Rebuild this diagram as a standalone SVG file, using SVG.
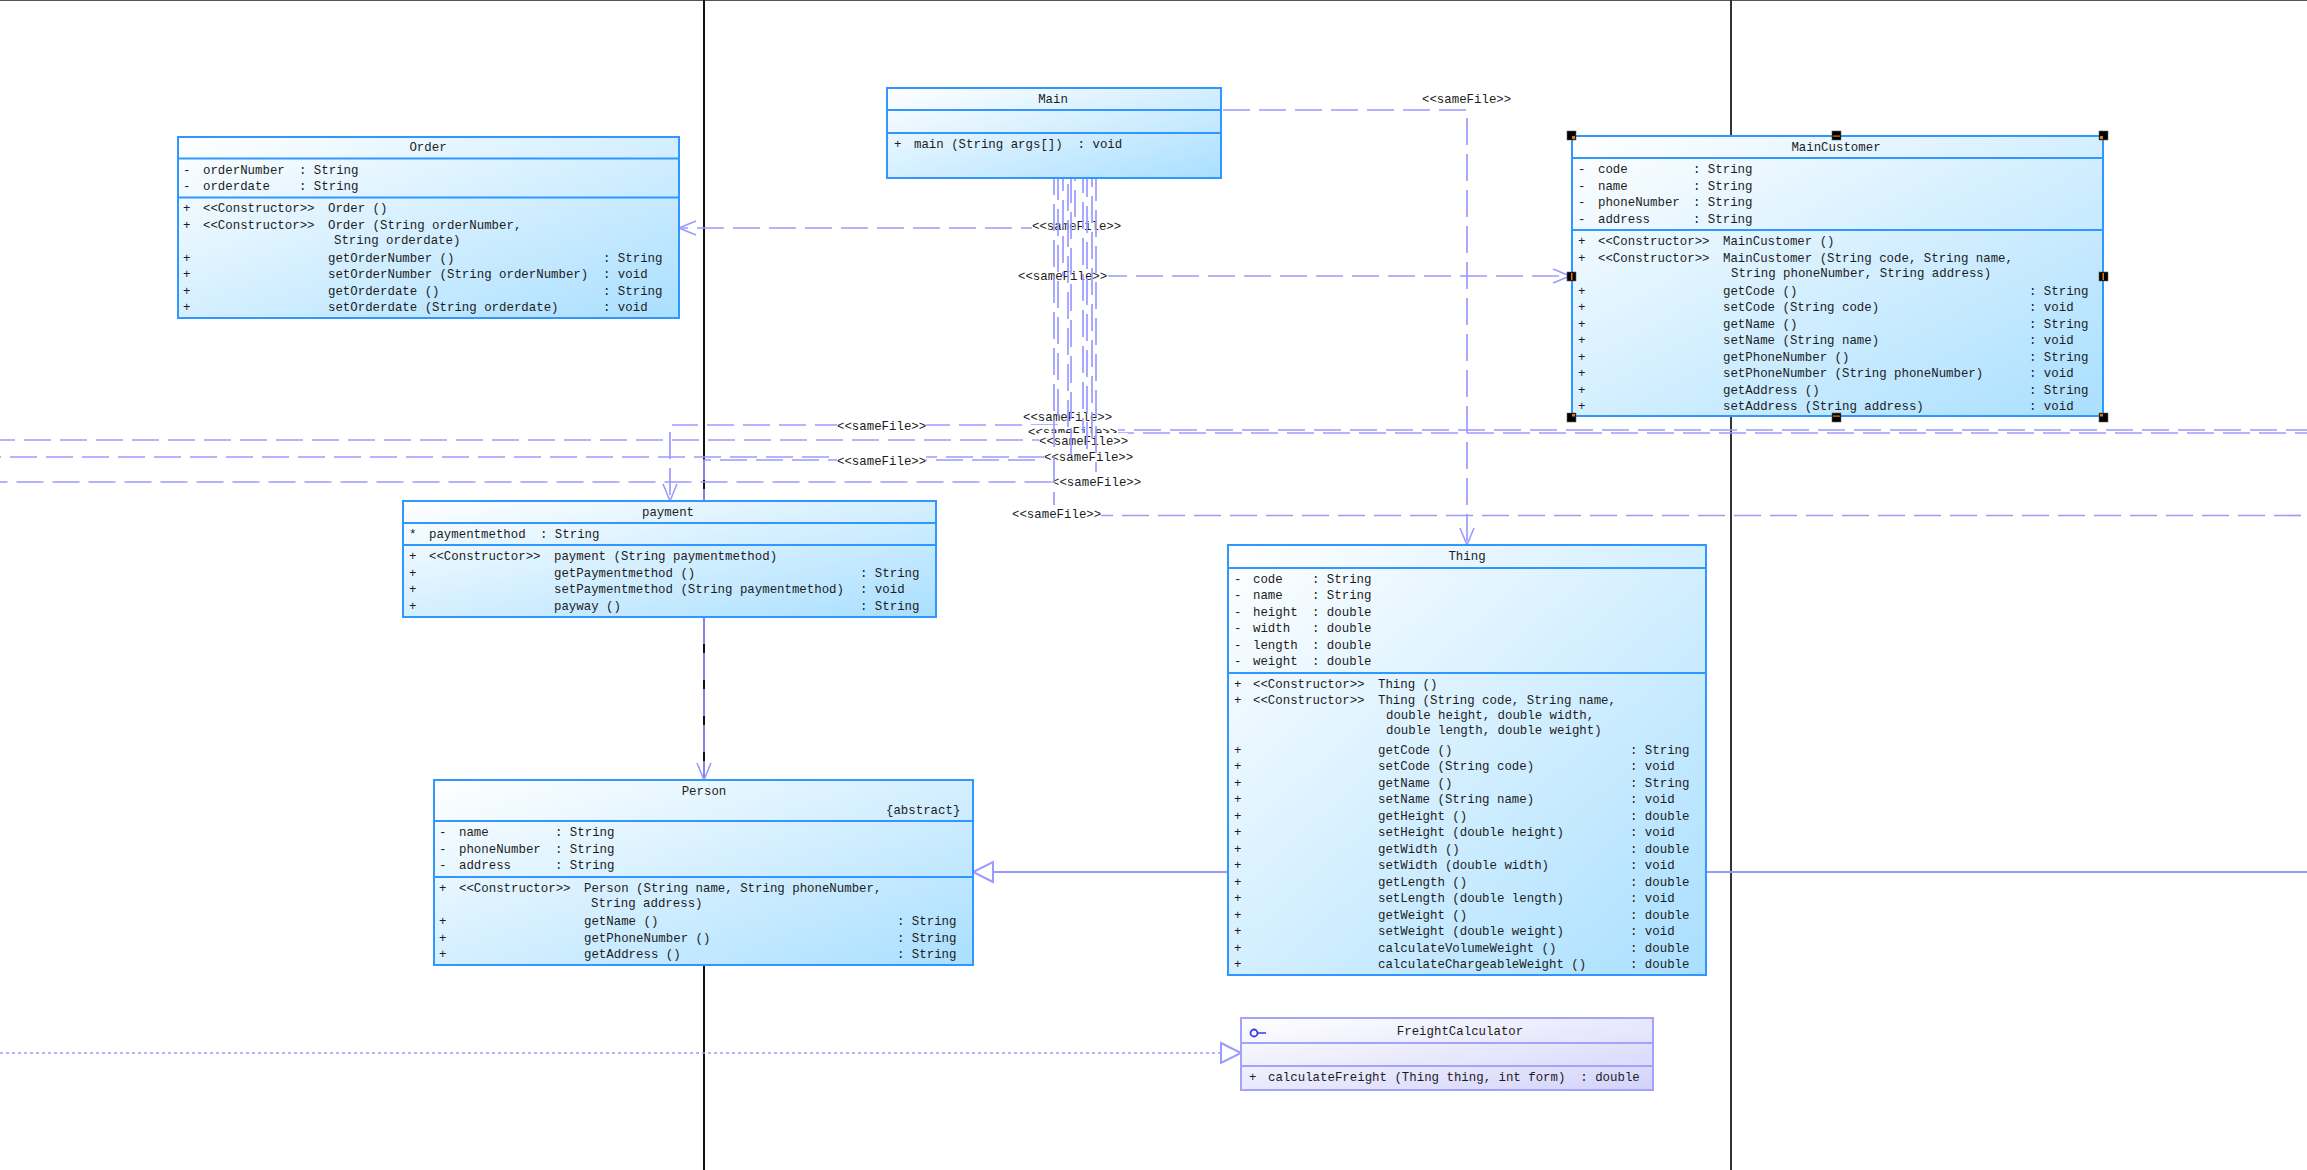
<svg xmlns="http://www.w3.org/2000/svg" width="2307" height="1170" viewBox="0 0 2307 1170">
<style>
text{font-family:"Liberation Mono","DejaVu Sans Mono",monospace;font-size:12.4px;fill:#1c1c1c;white-space:pre}
.c{text-anchor:middle}
.box{fill:url(#g);stroke:#2f97ff;stroke-width:2}
.sep{stroke:#2f97ff;stroke-width:2;fill:none}
.ibox{fill:url(#gi);stroke:#a3a3f8;stroke-width:2}
.isep{stroke:#a3a3f8;stroke-width:2;fill:none}
.d{fill:none;stroke:#9b9bff;stroke-width:1.7;stroke-dasharray:27 9}
.s{fill:none;stroke:#9b9bff;stroke-width:2}
.o{fill:none;stroke:#9b9bff;stroke-width:1.7;stroke-dasharray:3 3}
.bg{fill:#fff}
.h{fill:#000;stroke:#666;stroke-width:.6}
.or{fill:#e47b00}
.b{stroke:#111;stroke-width:2;fill:none}
</style>
<defs>
<linearGradient id="g" x1="0" y1="0" x2="1" y2="1"><stop offset="0" stop-color="#fff"/><stop offset="1" stop-color="#a9dfff"/></linearGradient>
<linearGradient id="gi" x1="0" y1="0" x2="1" y2="1"><stop offset="0" stop-color="#fff"/><stop offset="1" stop-color="#d3d3fb"/></linearGradient>
<marker id="open" markerUnits="userSpaceOnUse" markerWidth="24" markerHeight="20" refX="20" refY="10" orient="auto" overflow="visible"><path d="M3,3L20,10L3,17" fill="none" stroke="#9b9bff" stroke-width="1.6"/></marker>
<marker id="tri" markerUnits="userSpaceOnUse" markerWidth="26" markerHeight="26" refX="22" refY="13" orient="auto" overflow="visible"><path d="M2,3L22,13L2,23Z" fill="#fff" stroke="#9b9bff" stroke-width="2"/></marker>
</defs>
<rect width="2307" height="1170" fill="#fff"/>
<g id="background-lines">
<rect x="0" y="0" width="2307" height="1" fill="#555"/>
<line class="b" x1="704" y1="0" x2="704" y2="1170"/>
<line x1="1731" y1="0" x2="1731" y2="1170" stroke="#333" stroke-width="2"/>
</g>
<g id="connectors">
<path class="d" d="M1223,110H1467V545" marker-end="url(#open)"/>
<path class="d" d="M1048,228H679" marker-end="url(#open)"/>
<path class="d" d="M1100,276H1570" marker-end="url(#open)"/>
<path class="d" d="M1058,425H672"/>
<path class="d" d="M670,432V501" marker-end="url(#open)"/>
<path class="d" d="M0,440H1092" stroke-dashoffset="12"/>
<path class="d" d="M0,457H1087" stroke-dashoffset="26"/>
<path class="d" d="M1071,460H704V501"/>
<path class="d" d="M0,482H1096" stroke-dashoffset="19.5"/>
<path class="d" d="M1068,430H2307" stroke-dashoffset="6"/>
<path class="d" d="M1083,433H2307" stroke-dashoffset="12"/>
<path class="d" d="M1054,515.500H2307" stroke-dashoffset="4"/>
<path class="d" d="M704,617V780" marker-end="url(#open)"/>
<path class="s" d="M1228,872H973" marker-end="url(#tri)"/>
<path class="s" d="M1706,872H2307"/>
<path class="o" d="M0,1053H1241" marker-end="url(#tri)"/>
<g id="connector-labels">
<rect class="bg" x="1421" y="92" width="90" height="15"/><text x="1422" y="103">&lt;&lt;sameFile&gt;&gt;</text>
<rect class="bg" x="1032" y="219" width="89" height="15"/><text x="1032" y="230">&lt;&lt;sameFile&gt;&gt;</text>
<rect class="bg" x="1018" y="269" width="90" height="15"/><text x="1018" y="280">&lt;&lt;sameFile&gt;&gt;</text>
<rect class="bg" x="837" y="419" width="89" height="15"/><text x="837" y="430">&lt;&lt;sameFile&gt;&gt;</text>
<rect class="bg" x="837" y="454" width="89" height="15"/><text x="837" y="465">&lt;&lt;sameFile&gt;&gt;</text>
<rect class="bg" x="1023" y="410" width="89" height="14"/><text x="1023" y="421">&lt;&lt;sameFile&gt;&gt;</text>
<rect class="bg" x="1028" y="425" width="90" height="10"/><text x="1028" y="436">&lt;&lt;sameFile&gt;&gt;</text>
<rect class="bg" x="1039" y="433" width="89" height="15"/><text x="1039" y="445">&lt;&lt;sameFile&gt;&gt;</text>
<rect class="bg" x="1044" y="450" width="89" height="15"/><text x="1044" y="461">&lt;&lt;sameFile&gt;&gt;</text>
<rect class="bg" x="1052" y="475" width="89" height="15"/><text x="1052" y="486">&lt;&lt;sameFile&gt;&gt;</text>
<rect class="bg" x="1012" y="507" width="89" height="15"/><text x="1012" y="518">&lt;&lt;sameFile&gt;&gt;</text>
</g>
<g id="main-bundle">
<path class="d" d="M1054,178V505" stroke-dashoffset="10"/>
<path class="d" d="M1058,178V425" stroke-dashoffset="5"/>
<path class="d" d="M1063,178V276" stroke-dashoffset="14"/>
<path class="d" d="M1068,178V430" stroke-dashoffset="30"/>
<path class="d" d="M1071,178V460" stroke-dashoffset="2"/>
<path class="d" d="M1075,178V228" stroke-dashoffset="24"/>
<path class="d" d="M1083,178V433" stroke-dashoffset="12"/>
<path class="d" d="M1087,178V457" stroke-dashoffset="8"/>
<path class="d" d="M1092,178V440" stroke-dashoffset="18"/>
<path class="d" d="M1096,178V472" stroke-dashoffset="4"/>
</g>
</g>
<g id="Order">
<rect class="box" x="178" y="137" width="501" height="181"/>
<path class="sep" d="M178,158.500H679M178,197.500H679"/>
<text class="c" x="428" y="151">Order</text>
<text y="173.500"><tspan x="183">-</tspan><tspan x="203">orderNumber</tspan><tspan x="299">: String</tspan></text>
<text y="189.500"><tspan x="183">-</tspan><tspan x="203">orderdate</tspan><tspan x="299">: String</tspan></text>
<text y="212"><tspan x="183">+</tspan><tspan x="203">&lt;&lt;Constructor&gt;&gt;</tspan><tspan x="328">Order ()</tspan></text>
<text y="229"><tspan x="183">+</tspan><tspan x="203">&lt;&lt;Constructor&gt;&gt;</tspan><tspan x="328">Order (String orderNumber,</tspan></text>
<text x="334" y="244">String orderdate)</text>
<text y="262"><tspan x="183">+</tspan><tspan x="328">getOrderNumber ()</tspan><tspan x="603">: String</tspan></text>
<text y="278"><tspan x="183">+</tspan><tspan x="328">setOrderNumber (String orderNumber)</tspan><tspan x="603">: void</tspan></text>
<text y="295"><tspan x="183">+</tspan><tspan x="328">getOrderdate ()</tspan><tspan x="603">: String</tspan></text>
<text y="311"><tspan x="183">+</tspan><tspan x="328">setOrderdate (String orderdate)</tspan><tspan x="603">: void</tspan></text>
</g>
<g id="Main">
<rect class="box" x="887" y="88" width="334" height="90"/>
<path class="sep" d="M887,110H1221M887,133H1221"/>
<text class="c" x="1053" y="103">Main</text>
<text y="148"><tspan x="894">+</tspan><tspan x="914">main (String args[])  : void</tspan></text>
</g>
<g id="MainCustomer">
<rect class="box" x="1572" y="136" width="531" height="280"/>
<path class="sep" d="M1572,158H2103M1572,230H2103"/>
<text class="c" x="1836" y="151">MainCustomer</text>
<text y="173"><tspan x="1578">-</tspan><tspan x="1598">code</tspan><tspan x="1693">: String</tspan></text>
<text y="190"><tspan x="1578">-</tspan><tspan x="1598">name</tspan><tspan x="1693">: String</tspan></text>
<text y="206"><tspan x="1578">-</tspan><tspan x="1598">phoneNumber</tspan><tspan x="1693">: String</tspan></text>
<text y="223"><tspan x="1578">-</tspan><tspan x="1598">address</tspan><tspan x="1693">: String</tspan></text>
<text y="245"><tspan x="1578">+</tspan><tspan x="1598">&lt;&lt;Constructor&gt;&gt;</tspan><tspan x="1723">MainCustomer ()</tspan></text>
<text y="262"><tspan x="1578">+</tspan><tspan x="1598">&lt;&lt;Constructor&gt;&gt;</tspan><tspan x="1723">MainCustomer (String code, String name,</tspan></text>
<text x="1731" y="277">String phoneNumber, String address)</text>
<text y="295"><tspan x="1578">+</tspan><tspan x="1723">getCode ()</tspan><tspan x="2029">: String</tspan></text>
<text y="311"><tspan x="1578">+</tspan><tspan x="1723">setCode (String code)</tspan><tspan x="2029">: void</tspan></text>
<text y="328"><tspan x="1578">+</tspan><tspan x="1723">getName ()</tspan><tspan x="2029">: String</tspan></text>
<text y="344"><tspan x="1578">+</tspan><tspan x="1723">setName (String name)</tspan><tspan x="2029">: void</tspan></text>
<text y="361"><tspan x="1578">+</tspan><tspan x="1723">getPhoneNumber ()</tspan><tspan x="2029">: String</tspan></text>
<text y="377"><tspan x="1578">+</tspan><tspan x="1723">setPhoneNumber (String phoneNumber)</tspan><tspan x="2029">: void</tspan></text>
<text y="394"><tspan x="1578">+</tspan><tspan x="1723">getAddress ()</tspan><tspan x="2029">: String</tspan></text>
<text y="410"><tspan x="1578">+</tspan><tspan x="1723">setAddress (String address)</tspan><tspan x="2029">: void</tspan></text>
<g id="selection-handles">
<rect class="h" x="1567" y="131" width="9" height="9"/><rect class="h" x="1832" y="131" width="9" height="9"/><rect class="h" x="2099" y="131" width="9" height="9"/>
<rect class="h" x="1567" y="272" width="9" height="9"/><rect class="h" x="2099" y="272" width="9" height="9"/>
<rect class="h" x="1567" y="413" width="9" height="9"/><rect class="h" x="1832" y="413" width="9" height="9"/><rect class="h" x="2099" y="413" width="9" height="9"/>
<rect class="or" x="1572" y="136" width="3" height="3"/><rect class="or" x="1833" y="135.500" width="7" height="1.200"/><rect class="or" x="2100" y="136" width="3" height="3"/>
<rect class="or" x="1571" y="273" width="1.500" height="7"/><rect class="or" x="2102.500" y="273" width="1.500" height="7"/>
<rect class="or" x="1572" y="414" width="3" height="2.500"/><rect class="or" x="1833" y="415.500" width="7" height="1.200"/><rect class="or" x="2100" y="414" width="3" height="2.500"/>
</g>
</g>
<g id="payment">
<rect class="box" x="403" y="501" width="533" height="116"/>
<path class="sep" d="M403,523H936M403,545H936"/>
<text class="c" x="668" y="516">payment</text>
<text y="538"><tspan x="409">*</tspan><tspan x="429">paymentmethod</tspan><tspan x="540">: String</tspan></text>
<text y="560"><tspan x="409">+</tspan><tspan x="429">&lt;&lt;Constructor&gt;&gt;</tspan><tspan x="554">payment (String paymentmethod)</tspan></text>
<text y="577"><tspan x="409">+</tspan><tspan x="554">getPaymentmethod ()</tspan><tspan x="860">: String</tspan></text>
<text y="593"><tspan x="409">+</tspan><tspan x="554">setPaymentmethod (String paymentmethod)</tspan><tspan x="860">: void</tspan></text>
<text y="610"><tspan x="409">+</tspan><tspan x="554">payway ()</tspan><tspan x="860">: String</tspan></text>
</g>
<g id="Person">
<rect class="box" x="434" y="780" width="539" height="185"/>
<path class="sep" d="M434,821H973M434,877H973"/>
<text class="c" x="704" y="795">Person</text>
<text x="886" y="814">{abstract}</text>
<text y="836"><tspan x="439">-</tspan><tspan x="459">name</tspan><tspan x="555">: String</tspan></text>
<text y="853"><tspan x="439">-</tspan><tspan x="459">phoneNumber</tspan><tspan x="555">: String</tspan></text>
<text y="869"><tspan x="439">-</tspan><tspan x="459">address</tspan><tspan x="555">: String</tspan></text>
<text y="892"><tspan x="439">+</tspan><tspan x="459">&lt;&lt;Constructor&gt;&gt;</tspan><tspan x="584">Person (String name, String phoneNumber,</tspan></text>
<text x="591" y="907">String address)</text>
<text y="925"><tspan x="439">+</tspan><tspan x="584">getName ()</tspan><tspan x="897">: String</tspan></text>
<text y="942"><tspan x="439">+</tspan><tspan x="584">getPhoneNumber ()</tspan><tspan x="897">: String</tspan></text>
<text y="958"><tspan x="439">+</tspan><tspan x="584">getAddress ()</tspan><tspan x="897">: String</tspan></text>
</g>
<g id="Thing">
<rect class="box" x="1228" y="545" width="478" height="430"/>
<path class="sep" d="M1228,568H1706M1228,673H1706"/>
<text class="c" x="1467" y="560">Thing</text>
<text y="583"><tspan x="1234">-</tspan><tspan x="1253">code</tspan><tspan x="1312">: String</tspan></text>
<text y="599"><tspan x="1234">-</tspan><tspan x="1253">name</tspan><tspan x="1312">: String</tspan></text>
<text y="616"><tspan x="1234">-</tspan><tspan x="1253">height</tspan><tspan x="1312">: double</tspan></text>
<text y="632"><tspan x="1234">-</tspan><tspan x="1253">width</tspan><tspan x="1312">: double</tspan></text>
<text y="649"><tspan x="1234">-</tspan><tspan x="1253">length</tspan><tspan x="1312">: double</tspan></text>
<text y="665"><tspan x="1234">-</tspan><tspan x="1253">weight</tspan><tspan x="1312">: double</tspan></text>
<text y="688"><tspan x="1234">+</tspan><tspan x="1253">&lt;&lt;Constructor&gt;&gt;</tspan><tspan x="1378">Thing ()</tspan></text>
<text y="704"><tspan x="1234">+</tspan><tspan x="1253">&lt;&lt;Constructor&gt;&gt;</tspan><tspan x="1378">Thing (String code, String name,</tspan></text>
<text x="1386" y="719">double height, double width,</text>
<text x="1386" y="734">double length, double weight)</text>
<text y="754"><tspan x="1234">+</tspan><tspan x="1378">getCode ()</tspan><tspan x="1630">: String</tspan></text>
<text y="770"><tspan x="1234">+</tspan><tspan x="1378">setCode (String code)</tspan><tspan x="1630">: void</tspan></text>
<text y="787"><tspan x="1234">+</tspan><tspan x="1378">getName ()</tspan><tspan x="1630">: String</tspan></text>
<text y="803"><tspan x="1234">+</tspan><tspan x="1378">setName (String name)</tspan><tspan x="1630">: void</tspan></text>
<text y="820"><tspan x="1234">+</tspan><tspan x="1378">getHeight ()</tspan><tspan x="1630">: double</tspan></text>
<text y="836"><tspan x="1234">+</tspan><tspan x="1378">setHeight (double height)</tspan><tspan x="1630">: void</tspan></text>
<text y="853"><tspan x="1234">+</tspan><tspan x="1378">getWidth ()</tspan><tspan x="1630">: double</tspan></text>
<text y="869"><tspan x="1234">+</tspan><tspan x="1378">setWidth (double width)</tspan><tspan x="1630">: void</tspan></text>
<text y="886"><tspan x="1234">+</tspan><tspan x="1378">getLength ()</tspan><tspan x="1630">: double</tspan></text>
<text y="902"><tspan x="1234">+</tspan><tspan x="1378">setLength (double length)</tspan><tspan x="1630">: void</tspan></text>
<text y="919"><tspan x="1234">+</tspan><tspan x="1378">getWeight ()</tspan><tspan x="1630">: double</tspan></text>
<text y="935"><tspan x="1234">+</tspan><tspan x="1378">setWeight (double weight)</tspan><tspan x="1630">: void</tspan></text>
<text y="952"><tspan x="1234">+</tspan><tspan x="1378">calculateVolumeWeight ()</tspan><tspan x="1630">: double</tspan></text>
<text y="968"><tspan x="1234">+</tspan><tspan x="1378">calculateChargeableWeight ()</tspan><tspan x="1630">: double</tspan></text>
</g>
<g id="FreightCalculator">
<rect class="ibox" x="1241" y="1018" width="412" height="72"/>
<path class="isep" d="M1241,1043H1653M1241,1066H1653"/>
<circle cx="1254" cy="1033" r="3.500" fill="none" stroke="#3a3ae8" stroke-width="1.800"/>
<line x1="1258" y1="1033" x2="1266" y2="1033" stroke="#3a3ae8" stroke-width="1.500"/>
<text class="c" x="1460" y="1035">FreightCalculator</text>
<text y="1081"><tspan x="1249">+</tspan><tspan x="1268">calculateFreight (Thing thing, int form)  : double</tspan></text>
</g>
</svg>
